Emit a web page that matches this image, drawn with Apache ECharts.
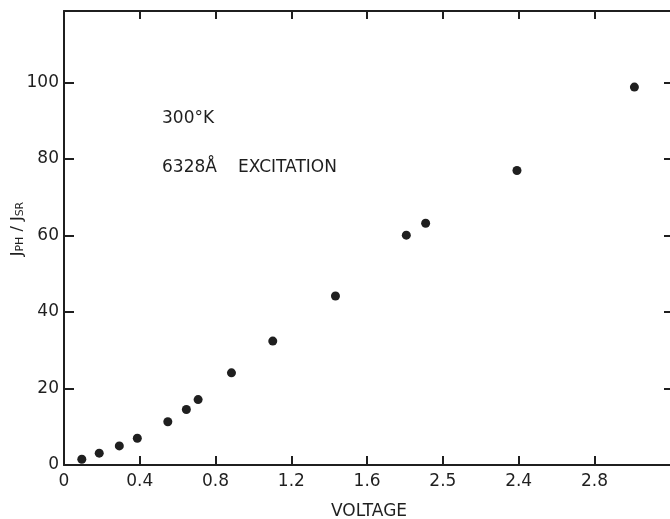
<!DOCTYPE html>
<html>
<head>
<meta charset="utf-8">
<script src="https://cdn.jsdelivr.net/npm/echarts@6/dist/echarts.min.js"></script>
<style>
html,body{margin:0;padding:0;background:#fff;}
#chart{width:670px;height:519px;}
</style>
</head>
<body>
<div id="chart"></div>
<script>
// Data
var voltage = [0.094, 0.186, 0.292, 0.387, 0.548, 0.646, 0.708, 0.884, 1.102, 1.433, 1.807, 1.909, 2.391, 3.011];
var ratio   = [1.5, 3.1, 5.0, 7.0, 11.3, 14.5, 17.1, 24.1, 32.4, 44.2, 60.1, 63.2, 77.0, 98.8];
var xTickValues = [0, 0.4, 0.8, 1.2, 1.6, 2.0, 2.4, 2.8];
var xTickLabels = ['0', '0.4', '0.8', '1.2', '1.6', '2.5', '2.4', '2.8'];
var yTickValues = [0, 20, 40, 60, 80, 100];
var yTickLabels = ['0', '20', '40', '60', '80', '100'];
var xName = 'VOLTAGE';
var note1 = '300°K';
var note2a = '6328Å';
var note2b = 'EXCITATION';

var ink = '#1f1f1f';
var font = 'DejaVu Sans';

function lookup(values, labels) {
  return function (v) {
    for (var i = 0; i < values.length; i++) {
      if (Math.abs(values[i] - v) < 1e-6) return labels[i];
    }
    return '';
  };
}

var points = voltage.map(function (v, i) { return [v, ratio[i]]; });

var chart = echarts.init(document.getElementById('chart'), null, {renderer: 'canvas'});
var lineStyle = {color: ink, width: 2};
chart.setOption({
  animation: false,
  backgroundColor: '#fff',
  grid: {left: 64, top: 11, width: 610, height: 454, show: false, containLabel: false, outerBoundsMode: 'none'},
  xAxis: [{
    type: 'value', position: 'bottom', min: 0, max: 3.22,
    splitLine: {show: false},
    axisLine: {show: true, onZero: false, lineStyle: lineStyle},
    axisTick: {show: true, inside: true, length: 9, lineStyle: lineStyle, customValues: xTickValues},
    axisLabel: {customValues: xTickValues, formatter: lookup(xTickValues, xTickLabels),
      color: ink, fontFamily: font, fontSize: 17, margin: 8},
    name: xName, nameLocation: 'middle', nameGap: 38, nameMoveOverlap: false,
    nameTextStyle: {color: ink, fontFamily: font, fontSize: 17}
  }, {
    type: 'value', position: 'top', min: 0, max: 3.22,
    splitLine: {show: false},
    axisLine: {show: true, onZero: false, lineStyle: lineStyle},
    axisTick: {show: true, inside: true, length: 8, lineStyle: lineStyle, customValues: xTickValues},
    axisLabel: {show: false}
  }],
  yAxis: [{
    type: 'value', position: 'left', min: 0, max: 118.7,
    splitLine: {show: false},
    axisLine: {show: true, onZero: false, lineStyle: lineStyle},
    axisTick: {show: true, inside: true, length: 10, lineStyle: lineStyle, customValues: yTickValues},
    axisLabel: {customValues: yTickValues, formatter: lookup(yTickValues, yTickLabels),
      color: ink, fontFamily: font, fontSize: 17, margin: 5},
    name: 'J{sub|PH} / J{sub|SR}', nameLocation: 'middle', nameGap: 38, nameRotate: 90, nameMoveOverlap: false,
    nameTextStyle: {color: ink, fontFamily: font, fontSize: 16, padding: [0, 0, 0, 18],
      rich: {sub: {fontSize: 11, fontFamily: font, color: ink, verticalAlign: 'bottom', padding: [6, 0, 0, 0]}}}
  }, {
    type: 'value', position: 'right', min: 0, max: 118.7,
    splitLine: {show: false},
    axisLine: {show: true, onZero: false, lineStyle: lineStyle},
    axisTick: {show: true, inside: true, length: 10, lineStyle: lineStyle, customValues: yTickValues},
    axisLabel: {show: false}
  }],
  graphic: [
    {type: 'text', left: 162, top: 110, style: {text: note1, fill: ink, font: '17px "' + font + '"'}},
    {type: 'text', left: 162, top: 159, style: {text: note2a, fill: ink, font: '17px "' + font + '"'}},
    {type: 'text', left: 238, top: 159, style: {text: note2b, fill: ink, font: '17px "' + font + '"'}}
  ],
  series: [{
    type: 'scatter', xAxisIndex: 0, yAxisIndex: 0,
    data: points, symbol: 'circle', symbolSize: 9,
    itemStyle: {color: ink, opacity: 1}
  }]
});
</script>
</body>
</html>
